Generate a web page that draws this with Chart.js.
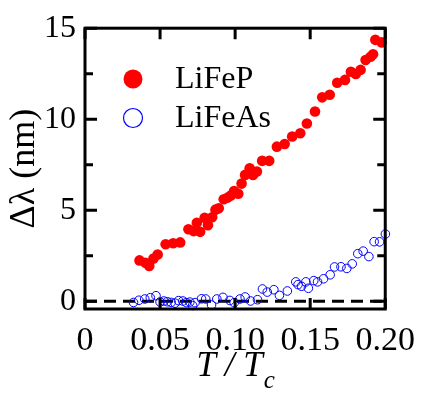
<!DOCTYPE html>
<html>
<head>
<meta charset="utf-8">
<script src="https://cdn.jsdelivr.net/npm/chart.js@4"></script>
<style>
  html, body { margin: 0; padding: 0; background: #fff; }
  #wrap { width: 427px; height: 398px; }
  #fontwarm { position: absolute; left: -1000px; top: 0; font-family: "Liberation Serif"; font-size: 30px; }
</style>
</head>
<body>
<div id="wrap"><canvas id="plot"></canvas></div>
<div id="fontwarm">0.05 LiFe <i>T c</i> Δλ</div>
<script>
// T / Tc values and penetration depth shift (nm)
const fepX = [0.0363, 0.0402, 0.0428, 0.0456, 0.0484, 0.0537, 0.0587, 0.0634, 0.0689, 0.0724,
    0.0767, 0.0745, 0.0797, 0.0819, 0.0847, 0.0869, 0.0891, 0.0924, 0.0950, 0.0971,
    0.0993, 0.1021, 0.1043, 0.1066, 0.1097, 0.1119, 0.1145, 0.1180, 0.1227, 0.1278,
    0.1330, 0.1380, 0.1434, 0.1478, 0.1532, 0.1580, 0.1630, 0.1680, 0.1732, 0.1771,
    0.1804, 0.1836, 0.1869, 0.1902, 0.1919, 0.1934, 0.1977];
const fepY = [2.24, 2.11, 1.93, 2.34, 2.56, 3.13, 3.18, 3.23, 3.95, 3.85,
    3.81, 4.31, 4.58, 4.17, 4.61, 5.03, 5.10, 5.60, 5.69, 5.81,
    6.05, 5.90, 6.46, 6.94, 7.30, 6.94, 7.12, 7.71, 7.71, 8.49,
    8.64, 9.05, 9.23, 9.76, 10.42, 11.20, 11.34, 12.00, 12.16, 12.61,
    12.48, 12.71, 13.25, 13.43, 13.57, 14.36, 14.22];

const feasX = [0.0323, 0.0359, 0.0398, 0.0435, 0.0473, 0.0500, 0.0525, 0.0548, 0.0574, 0.0600,
    0.0623, 0.0652, 0.0675, 0.0698, 0.0717, 0.0733, 0.0776, 0.0804, 0.0843, 0.0878,
    0.0919, 0.0965, 0.0994, 0.1032, 0.1067, 0.1103, 0.1149, 0.1182, 0.1214, 0.1258,
    0.1295, 0.1348, 0.1404, 0.1419, 0.1442, 0.1471, 0.1488, 0.1524, 0.1549, 0.1589,
    0.1633, 0.1662, 0.1705, 0.1744, 0.1780, 0.1817, 0.1853, 0.1891, 0.1926, 0.1962,
    0.2001];
const feasY = [-0.07, 0.05, 0.12, 0.19, 0.30, -0.04, 0.01, -0.03, -0.07, -0.11,
    0.03, 0.01, -0.08, -0.05, -0.24, -0.08, 0.13, 0.12, -0.21, 0.12,
    0.21, 0.04, -0.08, 0.12, 0.23, 0.01, 0.08, 0.67, 0.50, 0.63,
    0.32, 0.56, 1.06, 0.91, 0.82, 1.06, 0.71, 1.13, 1.06, 1.23,
    1.45, 1.88, 1.89, 1.80, 2.05, 2.61, 2.75, 2.45, 3.27, 3.26,
    3.69];

const xTicks = [0, 0.05, 0.10, 0.15, 0.20];
const yTicks = [0, 5, 10, 15];
const yMinor = [2.5, 7.5, 12.5];
const zeroLine = [0, 0.20];

const serif = '"Liberation Serif"';

function toPoints(xs, ys) {
    return xs.map((x, i) => ({ x: x, y: ys[i] }));
}

// frame, inward ticks, axis titles and legend
const decorations = {
    id: 'decorations',
    afterDraw(chart) {
        const ctx = chart.ctx;
        const area = chart.chartArea;
        const xs = chart.scales.x;
        const ys = chart.scales.y;
        ctx.save();
        ctx.strokeStyle = '#000';
        ctx.lineWidth = 3;
        ctx.lineCap = 'butt';
        ctx.strokeRect(area.left, area.top, area.right - area.left, area.bottom - area.top);

        ctx.beginPath();
        xTicks.forEach(v => {
            const px = xs.getPixelForValue(v);
            ctx.moveTo(px, area.bottom);
            ctx.lineTo(px, area.bottom - 11);
            ctx.moveTo(px, area.top);
            ctx.lineTo(px, area.top + 11);
        });
        yTicks.forEach(v => {
            const py = ys.getPixelForValue(v);
            ctx.moveTo(area.left, py);
            ctx.lineTo(area.left + 12, py);
            ctx.moveTo(area.right, py);
            ctx.lineTo(area.right - 12, py);
        });
        yMinor.forEach(v => {
            const py = ys.getPixelForValue(v);
            ctx.moveTo(area.left, py);
            ctx.lineTo(area.left + 8, py);
            ctx.moveTo(area.right, py);
            ctx.lineTo(area.right - 8, py);
        });
        ctx.stroke();

        // y title
        ctx.fillStyle = '#000';
        ctx.font = '36px ' + serif;
        ctx.textAlign = 'center';
        ctx.textBaseline = 'middle';
        ctx.translate(25, (area.top + area.bottom) / 2);
        ctx.rotate(-Math.PI / 2);
        ctx.fillText('Δλ (nm)', 0, 0);
        ctx.setTransform(1, 0, 0, 1, 0, 0);

        // x title: T / Tc
        ctx.textBaseline = 'alphabetic';
        ctx.textAlign = 'left';
        ctx.font = 'italic 35px ' + serif;
        const main = 'T / T';
        const mw = ctx.measureText(main).width;
        ctx.font = 'italic 25px ' + serif;
        const sw = ctx.measureText('c').width;
        const cx = (area.left + area.right) / 2;
        const x0 = cx - (mw + sw) / 2;
        ctx.font = 'italic 35px ' + serif;
        ctx.fillText(main, x0, 376);
        ctx.font = 'italic 25px ' + serif;
        ctx.fillText('c', x0 + mw + 1, 388);

        // legend
        ctx.font = '32px ' + serif;
        ctx.textBaseline = 'middle';
        chart.data.datasets.filter(d => d.label).forEach((d, i) => {
            const ly = 79 + i * 39;
            ctx.beginPath();
            ctx.arc(133, ly, 9.5, 0, Math.PI * 2);
            if (d.pointBackgroundColor !== 'transparent') {
                ctx.fillStyle = d.pointBackgroundColor;
                ctx.fill();
            } else {
                ctx.strokeStyle = d.pointBorderColor;
                ctx.lineWidth = 1.2;
                ctx.stroke();
            }
            ctx.fillStyle = '#000';
            ctx.fillText(d.label, 175, ly + 1);
        });
        ctx.restore();
    }
};

function drawChart() {
    new Chart(document.getElementById('plot'), {
        type: 'scatter',
        data: {
            datasets: [{
                label: 'LiFeP',
                data: toPoints(fepX, fepY),
                pointRadius: 5.3,
                pointBackgroundColor: '#ff0000',
                pointBorderColor: '#ff0000',
                pointBorderWidth: 0,
                clip: false,
                order: 1
            }, {
                label: 'LiFeAs',
                data: toPoints(feasX, feasY),
                pointRadius: 4.3,
                pointBackgroundColor: 'transparent',
                pointBorderColor: '#0000ff',
                pointBorderWidth: 1,
                clip: false,
                order: 2
            }, {
                label: '',
                type: 'line',
                data: zeroLine.map(x => ({ x: x, y: 0 })),
                borderColor: '#000',
                borderWidth: 3,
                borderDash: [12, 7],
                pointRadius: 0,
                order: 3
            }]
        },
        options: {
            responsive: true,
            maintainAspectRatio: false,
            animation: false,
            layout: { padding: { left: 0, right: 35, top: 22, bottom: 0 } },
            plugins: {
                legend: { display: false },
                tooltip: { enabled: false }
            },
            scales: {
                x: {
                    type: 'linear',
                    min: 0,
                    max: 0.20,
                    afterBuildTicks: scale => { scale.ticks = xTicks.map(v => ({ value: v })); },
                    afterFit: scale => { scale.height = 89; },
                    grid: { display: false, drawTicks: false },
                    border: { display: false },
                    ticks: {
                        color: '#000',
                        padding: 12,
                        maxRotation: 0,
                        autoSkip: false,
                        font: { family: serif, size: 34 },
                        callback: v => v === 0 ? '0' : v.toFixed(2)
                    }
                },
                y: {
                    type: 'linear',
                    min: -0.43,
                    max: 15,
                    afterBuildTicks: scale => { scale.ticks = yTicks.map(v => ({ value: v })); },
                    afterFit: scale => { scale.width = 85; },
                    grid: { display: false, drawTicks: false },
                    border: { display: false },
                    ticks: {
                        color: '#000',
                        padding: 9,
                        font: { family: serif, size: 32 }
                    }
                }
            }
        },
        plugins: [decorations]
    });
}

Promise.all([
    document.fonts.load('32px "Liberation Serif"'),
    document.fonts.load('italic 35px "Liberation Serif"')
]).then(drawChart, drawChart);
</script>
</body>
</html>
